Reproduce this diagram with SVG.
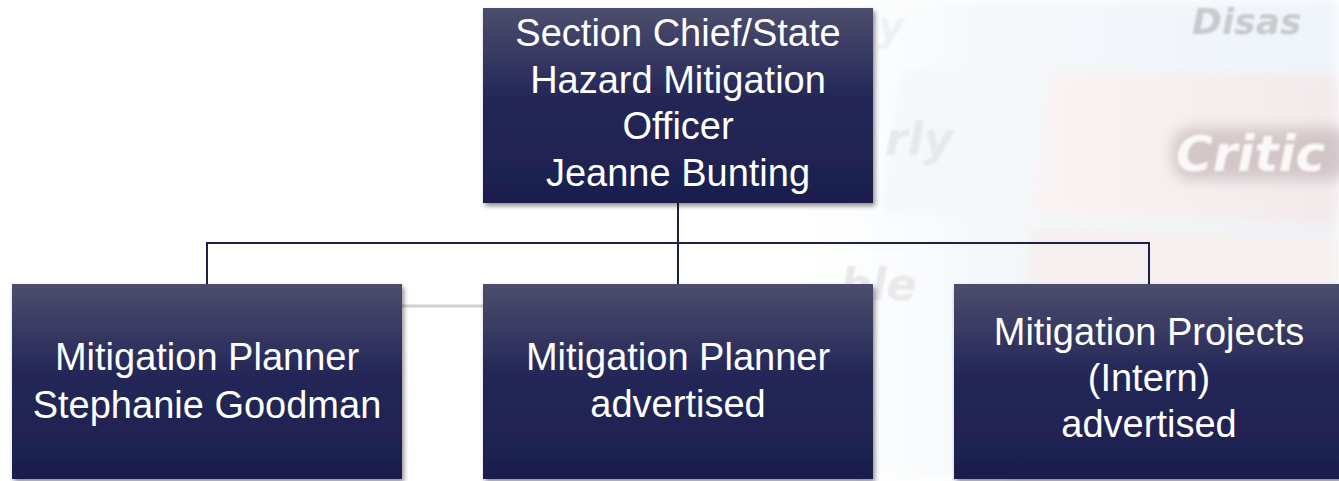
<svg xmlns="http://www.w3.org/2000/svg" width="1339" height="481" viewBox="0 0 1339 481">
  <defs>
    <linearGradient id="boxGrad" x1="0" y1="0" x2="0" y2="1">
      <stop offset="0" stop-color="#4d4d6d"/>
      <stop offset="0.45" stop-color="#252858"/>
      <stop offset="1" stop-color="#1c1e4e"/>
    </linearGradient>
    <linearGradient id="blueTile" x1="0" y1="0" x2="1" y2="0">
      <stop offset="0" stop-color="#ffffff" stop-opacity="0"/>
      <stop offset="0.4" stop-color="#f2f6f9"/>
      <stop offset="1" stop-color="#eaf1f9"/>
    </linearGradient>
    <linearGradient id="pinkTile" x1="0" y1="0" x2="1" y2="0">
      <stop offset="0" stop-color="#faf4f4"/>
      <stop offset="1" stop-color="#f2e9ea"/>
    </linearGradient>
    <filter id="shadow" x="-5%" y="-5%" width="115%" height="115%">
      <feGaussianBlur in="SourceAlpha" stdDeviation="2.5"/>
      <feOffset dx="2" dy="3" result="b"/>
      <feComponentTransfer><feFuncA type="linear" slope="0.45"/></feComponentTransfer>
      <feMerge><feMergeNode/><feMergeNode in="SourceGraphic"/></feMerge>
    </filter>
    <filter id="soft" x="-10%" y="-10%" width="120%" height="120%">
      <feGaussianBlur stdDeviation="6"/>
    </filter>
    <filter id="softText" x="-20%" y="-40%" width="140%" height="180%">
      <feGaussianBlur stdDeviation="1.2"/>
    </filter>
    <filter id="glow" x="-20%" y="-50%" width="140%" height="200%">
      <feGaussianBlur stdDeviation="7"/>
    </filter>
  </defs>
  <style>
    .box { fill: url(#boxGrad); filter: url(#shadow); }
    .label { font-family: "Liberation Sans", Arial, sans-serif; font-size: 38px; fill: #ffffff; text-anchor: middle; }
    .conn { fill: none; stroke: #1e2049; stroke-width: 2; }
    .bgtext { font-family: "DejaVu Sans", "Liberation Sans", sans-serif; font-weight: bold; font-style: italic; }
  </style>

  <!-- background -->
  <g id="background">
    <rect x="0" y="0" width="1339" height="481" fill="#ffffff"/>
    <g filter="url(#soft)">
      <polygon points="760,0 1339,0 1339,470 740,481" fill="url(#blueTile)" opacity="0.8"/>
      <polygon points="1050,70 1339,75 1339,225 1030,215" fill="url(#pinkTile)"/>
      <polygon points="1030,228 1339,234 1339,481 1010,481" fill="#f5efef"/>
      <polygon points="900,70 1040,70 1020,215 880,215" fill="#f4f7f9" opacity="0.9"/>
    </g>
    <text class="bgtext" x="1192" y="34" font-size="36" fill="#c8cacd" filter="url(#softText)">Disas</text>
    <rect x="1172" y="128" width="180" height="52" rx="20" fill="#b8a8ac" opacity="0.55" filter="url(#glow)"/>
    <text class="bgtext" x="1176" y="171" font-size="50" fill="#fbf8f8" filter="url(#softText)">Critic</text>
    <text class="bgtext" x="885" y="155" font-size="46" fill="#e6e8ea" filter="url(#softText)">rly</text>
    <text class="bgtext" x="878" y="40" font-size="40" fill="#eef0f1" filter="url(#softText)">y</text>
    <text class="bgtext" x="840" y="300" font-size="44" fill="#e8e8ea" filter="url(#softText)">ble</text>
    <line x1="402" y1="306" x2="483" y2="306" stroke="#d0d0d0" stroke-width="3"/>
  </g>

  <!-- connectors -->
  <g id="connectors">
    <path class="conn" d="M678,203 V284"/>
    <path class="conn" d="M207,284 V243 H1149 V284"/>
  </g>

  <!-- nodes -->
  <g id="node-chief">
    <rect class="box" x="483" y="8" width="390" height="195"/>
    <text class="label" x="678" y="46">Section Chief/State</text>
    <text class="label" x="678" y="93">Hazard Mitigation</text>
    <text class="label" x="678" y="139">Officer</text>
    <text class="label" x="678" y="186">Jeanne Bunting</text>
  </g>
  <g id="node-planner1">
    <rect class="box" x="12" y="284" width="390" height="195"/>
    <text class="label" x="207" y="370">Mitigation Planner</text>
    <text class="label" x="207" y="418">Stephanie Goodman</text>
  </g>
  <g id="node-planner2">
    <rect class="box" x="483" y="284" width="390" height="195"/>
    <text class="label" x="678" y="370">Mitigation Planner</text>
    <text class="label" x="678" y="417">advertised</text>
  </g>
  <g id="node-projects">
    <rect class="box" x="954" y="284" width="392" height="195"/>
    <text class="label" x="1149" y="345">Mitigation Projects</text>
    <text class="label" x="1149" y="391">(Intern)</text>
    <text class="label" x="1149" y="437">advertised</text>
  </g>
</svg>
